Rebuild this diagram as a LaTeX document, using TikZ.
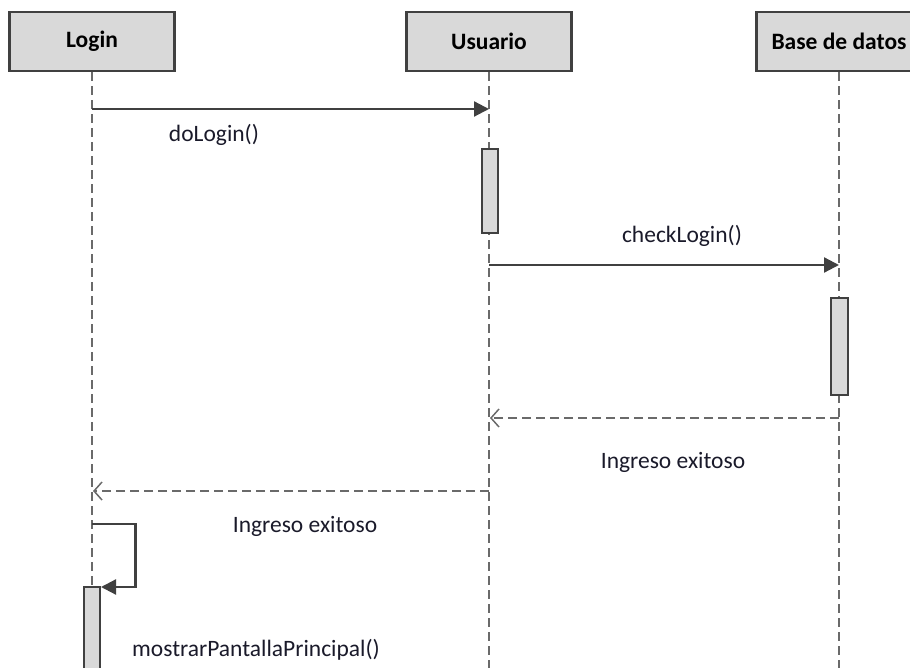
\documentclass[tikz,border=0pt]{standalone}
\usepackage{fontspec}
\setmainfont{Carlito}
\usetikzlibrary{arrows.meta}
\definecolor{boxfill}{HTML}{D9D9D9}
\definecolor{boxline}{HTML}{404040}
\definecolor{lifeln}{HTML}{6A6A6A}
\definecolor{msgln}{HTML}{404040}
\definecolor{lbl}{HTML}{1A1A2A}
\tikzset{
  header/.style={draw=boxline, line width=2.2pt, fill=boxfill, minimum width=165pt, minimum height=59pt, inner sep=0pt, font=\fontsize{23.5}{28}\selectfont\bfseries, text=black},
  lifeline/.style={draw=lifeln, line width=2pt, dash pattern=on 9pt off 5pt},
  actbox/.style={draw=boxline, line width=1.6pt, fill=boxfill},
  callmsg/.style={draw=msgln, line width=2.2pt, -{Triangle[length=15pt,width=15pt]}},
  retmsg/.style={draw=lifeln, line width=2pt, dash pattern=on 9pt off 5pt, -{Straight Barb[length=8pt,width=18pt,line width=1.5pt]}},
  msglabel/.style={font=\fontsize{23.5}{28}\selectfont, text=lbl, inner sep=0pt}
}
\begin{document}
\begin{tikzpicture}[x=1pt,y=-1pt]
\useasboundingbox (0,0) rectangle (910,668);
\begin{scope}
\clip (0,0) rectangle (910,668);
% headers
\node[header] (login) at (92,41.5) {Login};
\node[header] (usuario) at (489,41.5) {Usuario};
\node[header] (bd) at (839,41.5) {Base de datos};
% lifeline ends
\coordinate (loginEnd) at (92,680);
\coordinate (usuarioEnd) at (489,680);
\coordinate (bdEnd) at (839,680);
\draw[lifeline] (login.south) -- (loginEnd);
\draw[lifeline] (usuario.south) -- (usuarioEnd);
\draw[lifeline] (bd.south) -- (bdEnd);
% activations
\draw[actbox] (482,149) rectangle (498,233);
\draw[actbox] (831,298) rectangle (848,395);
\draw[actbox] (84,587) rectangle (100,690);
% messages
\coordinate (m1a) at (92,109);
\coordinate (m1b) at (489,109);
\draw[callmsg] (m1a) -- (m1b);
\node[msglabel] (l1) at (214,135) {doLogin()};

\coordinate (m2a) at (489,265);
\coordinate (m2b) at (839,265);
\draw[callmsg] (m2a) -- (m2b);
\node[msglabel] (l2) at (682,236) {checkLogin()};

\coordinate (m3a) at (839,418);
\coordinate (m3b) at (490,418);
\draw[retmsg] (m3a) -- (m3b);
\node[msglabel] (l3) at (673,462) {Ingreso exitoso};

\coordinate (m4a) at (489,491);
\coordinate (m4b) at (93,491);
\draw[retmsg] (m4a) -- (m4b);
\node[msglabel] (l4) at (305,526) {Ingreso exitoso};

\coordinate (m5a) at (92,524);
\coordinate (m5b) at (101,587);
\draw[callmsg] (m5a) -- (135.5,524) -- (135.5,587) -- (m5b);
\node[msglabel] (l5) at (256,650) {mostrarPantallaPrincipal()};
\end{scope}
\end{tikzpicture}
\end{document}
